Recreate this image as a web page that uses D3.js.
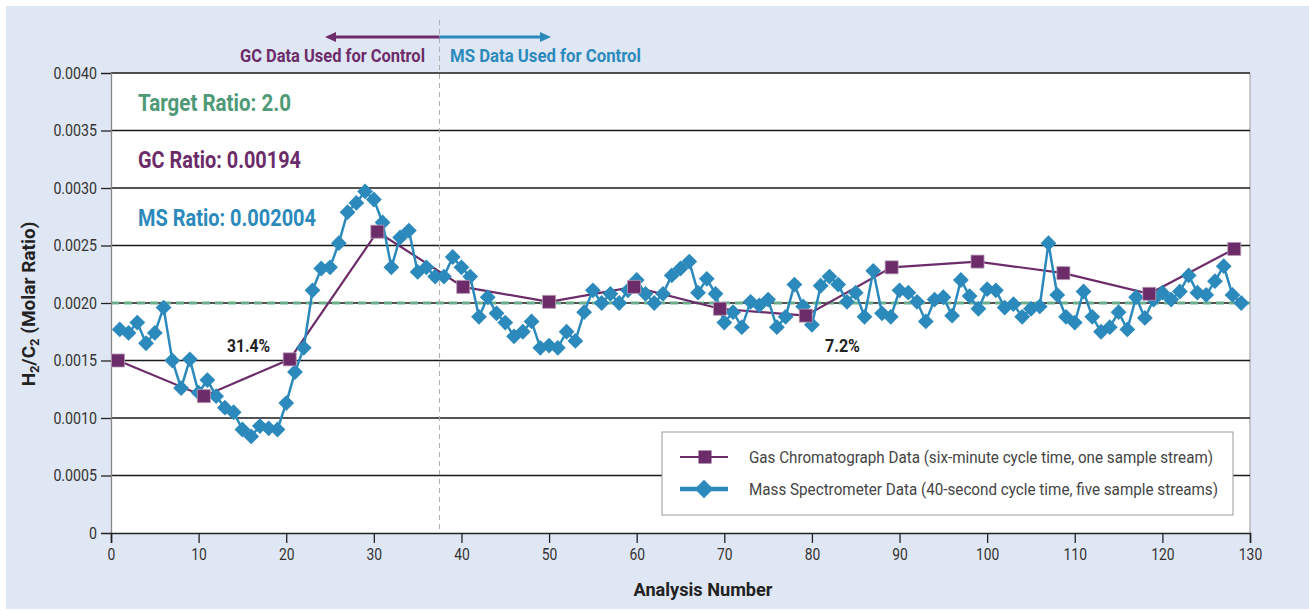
<!DOCTYPE html>
<html>
<head>
<meta charset="utf-8">
<script src="https://cdn.jsdelivr.net/npm/d3@7"></script>
<style>
  body { margin: 0; background: #fff; }
  text { font-family: Roboto, "Liberation Sans", sans-serif; }
</style>
</head>
<body>
<svg id="svg"></svg>
<script>
var width = 1309;
var height = 610;

// GC analyser samples (analysis number, H2/C2 ratio)
const gcX = [0.8, 10.6, 20.4, 30.4, 40.2, 50.0, 59.7, 69.5, 79.3, 89.1, 98.9, 108.7, 118.5, 128.2];
const gcValues = [0.00150, 0.00119, 0.00151, 0.00262, 0.00214, 0.00201, 0.00214, 0.00195, 0.00189, 0.00231, 0.00236, 0.00226, 0.00208, 0.00247];

// MS samples, analysis numbers 1..129
const msValues = [
  0.00177, 0.00174, 0.00183, 0.00165, 0.00174, 0.00196, 0.00150, 0.00126, 0.00151, 0.00122,
  0.00133, 0.00119, 0.00109, 0.00105, 0.00090, 0.00084, 0.00093, 0.00091, 0.00090, 0.00113,
  0.00140, 0.00161, 0.00211, 0.00230, 0.00231, 0.00252, 0.00279, 0.00287, 0.00297, 0.00290,
  0.00270, 0.00231, 0.00257, 0.00263, 0.00227, 0.00231, 0.00223, 0.00223, 0.00240, 0.00231,
  0.00223, 0.00188, 0.00205, 0.00191, 0.00183, 0.00171, 0.00175, 0.00184, 0.00161, 0.00163,
  0.00161, 0.00175, 0.00167, 0.00192, 0.00211, 0.00200, 0.00208, 0.00200, 0.00211, 0.00220,
  0.00208, 0.00200, 0.00208, 0.00224, 0.00230, 0.00236, 0.00209, 0.00221, 0.00208, 0.00183,
  0.00192, 0.00179, 0.00201, 0.00198, 0.00203, 0.00179, 0.00188, 0.00216, 0.00197, 0.00181,
  0.00215, 0.00223, 0.00216, 0.00201, 0.00209, 0.00188, 0.00228, 0.00191, 0.00188, 0.00211,
  0.00209, 0.00201, 0.00184, 0.00203, 0.00205, 0.00189, 0.00220, 0.00206, 0.00195, 0.00212,
  0.00211, 0.00196, 0.00199, 0.00188, 0.00195, 0.00197, 0.00252, 0.00207, 0.00188, 0.00183,
  0.00210, 0.00188, 0.00175, 0.00179, 0.00192, 0.00177, 0.00205, 0.00187, 0.00203, 0.00209,
  0.00203, 0.00210, 0.00224, 0.00209, 0.00207, 0.00219, 0.00232, 0.00207, 0.00200
];

const xTicks = [0, 10, 20, 30, 40, 50, 60, 70, 80, 90, 100, 110, 120, 130];
const yTicks = [0, 0.0005, 0.0010, 0.0015, 0.0020, 0.0025, 0.0030, 0.0035, 0.0040];
const targetRatio = 0.0020;
const switchPoint = 37.5;

const purple = "#6c2c6a";
const blue = "#2b8abb";
const green = "#4f9a76";

var margin = {left: 111, right: 59, top: 73, bottom: 77};

// squeeze a text horizontally (the original uses a condensed face)
function condense(sel, f) {
  sel.each(function() {
    var w = this.getComputedTextLength();
    d3.select(this).attr("textLength", w * f).attr("lengthAdjust", "spacingAndGlyphs");
  });
}

var svg = d3.select("#svg")
    .attr("width", width)
    .attr("height", height)
    .attr("viewBox", [0, 0, width, height]);

svg.append("rect")
    .attr("x", 6).attr("y", 6)
    .attr("width", width - 6).attr("height", height - 7)
    .attr("fill", "#e0e7f4");

var x = d3.scaleLinear().domain([0, 130]).range([margin.left, width - margin.right]);
var y = d3.scaleLinear().domain([0, 0.0040]).range([height - margin.bottom, margin.top]);

// plot area
svg.append("rect")
    .attr("x", x(0)).attr("y", y(0.004))
    .attr("width", x(130) - x(0)).attr("height", y(0) - y(0.004))
    .attr("fill", "#fff");

svg.append("line")
    .attr("x1", x(130)).attr("x2", x(130))
    .attr("y1", y(0.004)).attr("y2", y(0))
    .attr("stroke", "#999");

// gridlines
svg.append("g")
  .selectAll("line")
  .data(yTicks.slice(1))
  .join("line")
    .attr("x1", x(0)).attr("x2", x(130))
    .attr("y1", d => y(d)).attr("y2", d => y(d))
    .attr("stroke", "#1a1a1a")
    .attr("stroke-width", 1.3);

// target ratio line
svg.append("line")
    .attr("x1", x(0)).attr("x2", x(130))
    .attr("y1", y(targetRatio)).attr("y2", y(targetRatio))
    .attr("stroke", "#6aae8c")
    .attr("stroke-width", 2.8)
    .attr("stroke-dasharray", "8,5");

// GC -> MS switch
svg.append("line")
    .attr("x1", x(switchPoint)).attr("x2", x(switchPoint))
    .attr("y1", 20).attr("y2", y(0))
    .attr("stroke", "#aaa")
    .attr("stroke-dasharray", "5,4");

// axes
var yAxis = svg.append("g")
    .attr("transform", `translate(${x(0)},0)`)
    .call(d3.axisLeft(y).tickValues(yTicks).tickSize(10).tickPadding(4)
      .tickFormat(d => d === 0 ? "0" : d3.format(".4f")(d)));
yAxis.select(".domain").attr("stroke", "#888").attr("stroke-width", 1.3);
yAxis.selectAll(".tick line").attr("stroke", "#222").attr("stroke-width", 1.3);
yAxis.selectAll("text").attr("font-size", 16.5).attr("fill", "#333")
    .style("font-family", "Roboto, sans-serif").call(condense, 0.86);

var xAxis = svg.append("g")
    .attr("transform", `translate(0,${y(0)})`)
    .call(d3.axisBottom(x).tickValues(xTicks).tickSize(10).tickPadding(5));
xAxis.select(".domain").attr("stroke", "#222").attr("stroke-width", 1.5);
xAxis.selectAll(".tick line").attr("stroke", "#222").attr("stroke-width", 1.3);
xAxis.selectAll("text").attr("font-size", 16.5).attr("fill", "#333")
    .style("font-family", "Roboto, sans-serif").call(condense, 0.84);

svg.append("text")
    .attr("x", 703).attr("y", 596)
    .attr("text-anchor", "middle")
    .attr("font-size", 19).attr("font-weight", "bold").attr("fill", "#222")
    .attr("textLength", 139).attr("lengthAdjust", "spacingAndGlyphs")
    .text("Analysis Number");

var yTitle = svg.append("text")
    .attr("text-anchor", "middle")
    .attr("font-size", 19).attr("font-weight", "bold").attr("fill", "#222");
yTitle.append("tspan").text("H");
yTitle.append("tspan").text("2").attr("font-size", 13).attr("dy", 4);
yTitle.append("tspan").text("/C").attr("dy", -4);
yTitle.append("tspan").text("2").attr("font-size", 13).attr("dy", 4);
yTitle.append("tspan").text(" (Molar Ratio)").attr("dy", -4);
var titleLen = yTitle.node().getComputedTextLength();
yTitle.attr("transform", `translate(35,304) rotate(-90) scale(${Math.min(1, 190 / titleLen)},1)`);

// series
var diamond = d3.symbol(d3.symbolSquare, 125);
var square = d3.symbol(d3.symbolSquare, 170);

var gcLine = d3.line().x((d, i) => x(gcX[i])).y(d => y(d));
var msLine = d3.line().x((d, i) => x(i + 1)).y(d => y(d));

svg.append("path")
    .datum(gcValues)
    .attr("d", gcLine)
    .attr("fill", "none")
    .attr("stroke", purple)
    .attr("stroke-width", 2.2);

svg.append("path")
    .datum(msValues)
    .attr("d", msLine)
    .attr("fill", "none")
    .attr("stroke", blue)
    .attr("stroke-width", 2.5);

svg.append("g")
  .selectAll("path")
  .data(msValues)
  .join("path")
    .attr("d", diamond)
    .attr("transform", (d, i) => `translate(${x(i + 1)},${y(d)}) rotate(45)`)
    .attr("fill", blue);

svg.append("g")
  .selectAll("path")
  .data(gcValues)
  .join("path")
    .attr("d", square)
    .attr("transform", (d, i) => `translate(${x(gcX[i])},${y(d)})`)
    .attr("fill", purple)
    .attr("stroke", "#b79ab5")
    .attr("stroke-width", 0.8);

// annotations
function label(tx, ty, str, size, color, len, anchor) {
  svg.append("text").attr("x", tx).attr("y", ty)
      .attr("text-anchor", anchor || "start")
      .attr("font-size", size).attr("font-weight", "bold").attr("fill", color)
      .attr("textLength", len).attr("lengthAdjust", "spacingAndGlyphs")
      .text(str);
}
label(138, 111, "Target Ratio: 2.0", 24, green, 153);
label(138, 168, "GC Ratio: 0.00194", 24, purple, 163);
label(138, 226, "MS Ratio: 0.002004", 24, blue, 178);
label(227, 352, "31.4%", 17.5, "#222", 43);
label(825, 352, "7.2%", 17.5, "#222", 35);

// control arrows
var ay = 37;
svg.append("line")
    .attr("x1", x(switchPoint)).attr("x2", 334)
    .attr("y1", ay).attr("y2", ay)
    .attr("stroke", purple).attr("stroke-width", 3);
svg.append("path")
    .attr("d", `M325,${ay} L336,${ay - 5} L336,${ay + 5} Z`)
    .attr("fill", purple);
svg.append("line")
    .attr("x1", x(switchPoint)).attr("x2", 542)
    .attr("y1", ay).attr("y2", ay)
    .attr("stroke", blue).attr("stroke-width", 3);
svg.append("path")
    .attr("d", `M551,${ay} L540,${ay - 5} L540,${ay + 5} Z`)
    .attr("fill", blue);

label(240, 62, "GC Data Used for Control", 18, purple, 185);
label(450, 62, "MS Data Used for Control", 18, blue, 191);

// legend
var legend = svg.append("g");
legend.append("rect")
    .attr("x", 662).attr("y", 432)
    .attr("width", 571).attr("height", 83)
    .attr("fill", "#fff")
    .attr("stroke", "#999");

legend.append("line")
    .attr("x1", 680).attr("x2", 728).attr("y1", 457).attr("y2", 457)
    .attr("stroke", purple).attr("stroke-width", 2.2);
legend.append("path")
    .attr("d", square)
    .attr("transform", "translate(705,457)")
    .attr("fill", purple);
legend.append("text")
    .attr("x", 749).attr("y", 463)
    .attr("font-size", 17).attr("fill", "#444")
    .attr("textLength", 464).attr("lengthAdjust", "spacingAndGlyphs")
    .text("Gas Chromatograph Data (six-minute cycle time, one sample stream)");

legend.append("line")
    .attr("x1", 680).attr("x2", 728).attr("y1", 489).attr("y2", 489)
    .attr("stroke", blue).attr("stroke-width", 4.5);
legend.append("path")
    .attr("d", d3.symbol(d3.symbolSquare, 170))
    .attr("transform", "translate(704,489) rotate(45)")
    .attr("fill", blue);
legend.append("text")
    .attr("x", 749).attr("y", 495)
    .attr("font-size", 17).attr("fill", "#444")
    .attr("textLength", 469).attr("lengthAdjust", "spacingAndGlyphs")
    .text("Mass Spectrometer Data (40-second cycle time, five sample streams)");
</script>
</body>
</html>
